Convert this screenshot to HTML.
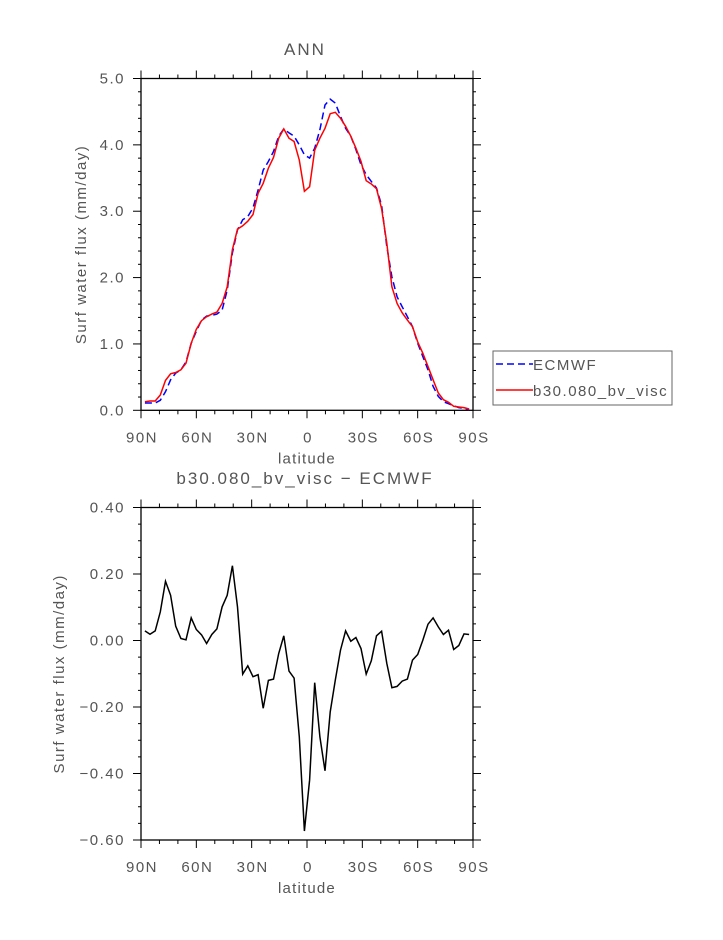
<!DOCTYPE html>
<html><head><meta charset="utf-8"><style>
body{margin:0;background:#fff;}
svg text{font-family:"Liberation Sans",sans-serif;fill:#555;}
</style></head><body>
<svg id="chart" width="723" height="935" xmlns="http://www.w3.org/2000/svg"></svg>
<script>
const lats=[87.86,85.10,82.31,79.53,76.74,73.95,71.16,68.37,65.58,62.79,60.00,57.21,54.42,51.63,48.84,46.05,43.26,40.47,37.67,34.88,32.09,29.30,26.51,23.72,20.93,18.14,15.35,12.56,9.77,6.98,4.19,1.40,-1.40,-4.19,-6.98,-9.77,-12.56,-15.35,-18.14,-20.93,-23.72,-26.51,-29.30,-32.09,-34.88,-37.67,-40.47,-43.26,-46.05,-48.84,-51.63,-54.42,-57.21,-60.00,-62.79,-65.58,-68.37,-71.16,-73.95,-76.74,-79.53,-82.31,-85.10,-87.86];
const modelVals=[.13,.14,.14,.23,.45,.55,.57,.61,.71,1.01,1.22,1.35,1.41,1.45,1.48,1.61,1.86,2.42,2.73,2.78,2.85,2.95,3.27,3.42,3.65,3.81,4.10,4.24,4.10,4.05,3.77,3.30,3.37,3.92,4.10,4.25,4.47,4.49,4.40,4.28,4.13,3.95,3.75,3.46,3.41,3.34,3.04,2.52,1.86,1.61,1.47,1.36,1.26,1.03,.86,.66,.46,.26,.16,.12,.06,.05,.04,.02];
const ecmwfVals=[.11,.11,.11,.15,.28,.46,.56,.61,.73,1.01,1.19,1.36,1.42,1.43,1.45,1.51,1.81,2.37,2.72,2.87,2.92,3.05,3.32,3.62,3.75,3.90,4.13,4.24,4.18,4.13,4.00,3.85,3.80,3.95,4.23,4.60,4.69,4.63,4.43,4.25,4.13,3.93,3.70,3.55,3.45,3.35,3.09,2.47,2.01,1.71,1.56,1.41,1.26,1.01,.81,.61,.36,.21,.13,.10,.07,.04,.03,.01];
const diffVals=[.029,.019,.029,.086,.178,.136,.043,.006,.002,.068,.033,.017,-.009,.018,.035,.101,.136,.225,.101,-.101,-.076,-.109,-.103,-.204,-.120,-.116,-.039,.014,-.092,-.113,-.29,-.573,-.42,-.127,-.29,-.392,-.215,-.119,-.029,.029,-.002,.009,-.024,-.101,-.061,.014,.028,-.069,-.142,-.138,-.122,-.116,-.059,-.042,.001,.049,.068,.041,.018,.031,-.027,-.015,.02,.018];
const xTickVals=[90,60,30,0,-30,-60,-90];
const xTickLabels=["90N","60N","30N","0","30S","60S","90S"];
const topYTicks=[0,1,2,3,4,5];
const topYLabels=["0.0","1.0","2.0","3.0","4.0","5.0"];
const botYTicks=[-0.6,-0.4,-0.2,0,0.2,0.4];
const botYLabels=["\u22120.60","\u22120.40","\u22120.20","0.00","0.20","0.40"];

const svg=document.getElementById('chart');
const NS='http://www.w3.org/2000/svg';
function mk(tag,attrs,parent){const e=document.createElementNS(NS,tag);for(const k in attrs)e.setAttribute(k,attrs[k]);(parent||svg).appendChild(e);return e;}
const X0=141,X1=473;
function xS(lat){return X0+(90-lat)/180*(X1-X0);}

function panel(name,yTop,yBot,vMin,vMax,yTicks,yLabels,minorStep,title,titleX){
  const g=mk('g',{});
  
  
  const yS=v=>yBot-(v-vMin)/(vMax-vMin)*(yBot-yTop);
  const fr=mk('rect',{x:X0,y:yTop,width:X1-X0,height:yBot-yTop,fill:'none',stroke:'#000','stroke-width':1.3},g);
  
  
  for(let l=90;l>=-90;l-=10){
    const x=xS(l);const major=l%30===0;const len=major?8:4;
    mk('line',{x1:x,x2:x,y1:yBot,y2:yBot+len,stroke:'#000','stroke-width':1},g);
    mk('line',{x1:x,x2:x,y1:yTop,y2:yTop-len,stroke:'#000','stroke-width':1},g);
  }
  xTickVals.forEach((l,i)=>{
    const t=mk('text',{x:xS(l)+1,y:yBot+32,'text-anchor':'middle','font-size':15,'letter-spacing':1.5},g);
    t.textContent=xTickLabels[i];
    
    
  });
  const nMin=Math.round((vMax-vMin)/minorStep);
  for(let k=0;k<=nMin;k++){
    const v=vMin+k*minorStep;const y=yS(v);
    const major=yTicks.some(t=>Math.abs(t-v)<1e-6);const len=major?8:3;
    mk('line',{x1:X0-len,x2:X0,y1:y,y2:y,stroke:'#000','stroke-width':1},g);
    mk('line',{x1:X1,x2:X1+len,y1:y,y2:y,stroke:'#000','stroke-width':1},g);
  }
  yTicks.forEach((v,i)=>{
    const t=mk('text',{x:125,y:yS(v)+5,'text-anchor':'end','font-size':15,'letter-spacing':1.5},g);
    t.textContent=yLabels[i];
    
    
  });
  const xl=mk('text',{x:307,y:yBot+53,'text-anchor':'middle','font-size':15,'letter-spacing':1.2},g);
  xl.textContent='latitude';
  
  
  const cy=(yTop+yBot)/2;
  const yl=mk('text',{x:titleX,y:cy,'text-anchor':'middle','font-size':15,'letter-spacing':1.5,transform:`rotate(-90 ${titleX} ${cy})`},g);
  yl.textContent='Surf water flux (mm/day)';
  
  
  const tt=mk('text',{x:title[1],y:title[2],'text-anchor':'middle','font-size':17,'letter-spacing':2},g);
  tt.textContent=title[0];
  
  
  return {g,yS};
}
function drawLine(g,vals,yS,color,dash,name){
  const pts=vals.map((v,i)=>xS(lats[i]).toFixed(1)+','+yS(v).toFixed(1)).join(' ');
  const p=mk('polyline',{points:pts,fill:'none',stroke:color,'stroke-width':1.5},g);
  if(dash)p.setAttribute('stroke-dasharray',dash);
  
  
}
const topPanel=panel('top-panel',78.5,410.3,0,5,topYTicks,topYLabels,0.2,['ANN',305,55],86);
drawLine(topPanel.g,ecmwfVals,topPanel.yS,'#0000ff','7,4','ecmwf-line');
drawLine(topPanel.g,modelVals,topPanel.yS,'#ff0000',null,'model-line');
const botPanel=panel('bottom-panel',507.5,840,-0.6,0.4,botYTicks,botYLabels,0.05,['b30.080_bv_visc \u2212 ECMWF',305,484],64);
drawLine(botPanel.g,diffVals,botPanel.yS,'#000000',null,'difference-line');

const lg=mk('g',{});


mk('rect',{x:493,y:351,width:179,height:54,fill:'#fff',stroke:'#666','stroke-width':1},lg);
const e1=mk('g',{},lg);


mk('line',{x1:496,x2:533,y1:364,y2:364,stroke:'#0000ff','stroke-width':1.5,'stroke-dasharray':'7,4'},e1);
const t1=mk('text',{x:533,y:370,'font-size':15,'letter-spacing':1.5},e1);t1.textContent='ECMWF';
const e2=mk('g',{},lg);


mk('line',{x1:496,x2:533,y1:390,y2:390,stroke:'#ff0000','stroke-width':1.5},e2);
const t2=mk('text',{x:533,y:396,'font-size':15,'letter-spacing':1.5},e2);t2.textContent='b30.080_bv_visc';
</script>
</body></html>
